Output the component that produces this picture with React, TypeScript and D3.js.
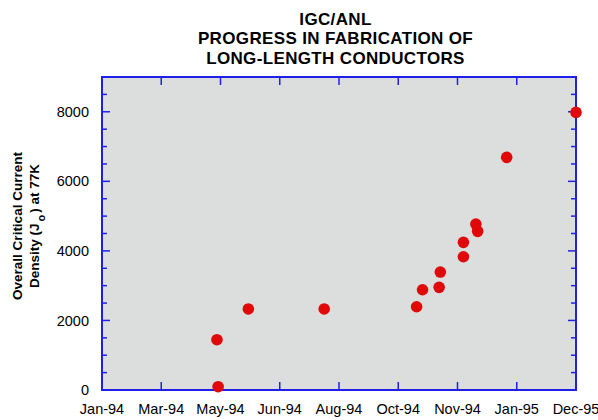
import React from "react";
import * as d3 from "d3";

const titleLines = ["IGC/ANL", "PROGRESS IN FABRICATION OF", "LONG-LENGTH CONDUCTORS"];
const xTickLabels = ["Jan-94", "Mar-94", "May-94", "Jun-94", "Aug-94", "Oct-94", "Nov-94", "Jan-95", "Dec-95"];
// x position in tick-interval units (0 = Jan-94 ... 8 = Dec-95)
const xValues = [1.94, 1.96, 2.47, 3.75, 5.31, 5.41, 5.69, 5.71, 6.1, 6.1, 6.34, 6.31, 6.83, 8.0];
const jValues = [1446, 95, 2330, 2330, 2394, 2883, 2952, 3392, 3832, 4246, 4562, 4772, 6689, 7982];
const yMajorTicks = [0, 2000, 4000, 6000, 8000];
const yMinorTicks = [500, 1000, 1500, 2500, 3000, 3500, 4500, 5000, 5500, 6500, 7000, 7500, 8500];

export default function App() {
  const W = 598, H = 420;
  const left = 102, right = 576, top = 77, bottom = 390;
  const x = d3.scaleLinear().domain([0, 8]).range([left, right]);
  const y = d3.scaleLinear().domain([0, 9000]).range([bottom, top]);
  const axisColor = "#2020e8";
  const font = "'Liberation Sans', Arial, sans-serif";
  return (
    <svg width={W} height={H} style={{ position: "absolute", left: 0, top: 0 }} fontFamily={font}>
      <rect width={W} height={H} fill="#fff" />
      <rect x={left} y={top} width={right - left} height={bottom - top} fill="#dcdddd" />
      {titleLines.map((t, i) => (
        <text key={i} x={335.5} y={24.5 + i * 19.6} textAnchor="middle" fontSize={17} letterSpacing={0.35} fontWeight="bold" fill="#000">
          {t}
        </text>
      ))}
      {/* x ticks */}
      {xTickLabels.map((lab, i) => (
        <g key={lab}>
          <line x1={x(i)} x2={x(i)} y1={bottom} y2={bottom - 8} stroke={axisColor} strokeWidth={1.5} />
          <line x1={x(i)} x2={x(i)} y1={top} y2={top + 8} stroke={axisColor} strokeWidth={1.5} />
          <text x={x(i)} y={414} textAnchor="middle" fontSize={14.5} fill="#000">{lab}</text>
        </g>
      ))}
      {/* y ticks */}
      {yMajorTicks.map((v) => (
        <g key={v}>
          <line x1={left} x2={left + 8} y1={y(v)} y2={y(v)} stroke={axisColor} strokeWidth={1.5} />
          <line x1={right} x2={right - 8} y1={y(v)} y2={y(v)} stroke={axisColor} strokeWidth={1.5} />
          <text x={89} y={y(v)} dy="0.35em" textAnchor="end" fontSize={14.5} fill="#000">{v}</text>
        </g>
      ))}
      {yMinorTicks.map((v) => (
        <g key={v}>
          <line x1={left} x2={left + 5} y1={y(v)} y2={y(v)} stroke={axisColor} strokeWidth={1.5} />
          <line x1={right} x2={right - 5} y1={y(v)} y2={y(v)} stroke={axisColor} strokeWidth={1.5} />
        </g>
      ))}
      <rect x={left} y={top} width={right - left} height={bottom - top} fill="none" stroke={axisColor} strokeWidth={2} />
      {/* y title */}
      <g transform="translate(21.5,226) rotate(-90)">
        <text x={0} y={0} textAnchor="middle" fontSize={13.5} fontWeight="bold" fill="#000">Overall Critical Current</text>
      </g>
      <g transform="translate(38.5,226) rotate(-90)">
        <text x={0} y={0} textAnchor="middle" fontSize={13.5} fontWeight="bold" fill="#000">
          Density (J<tspan dx={2} dy={6} fontSize={11}>o</tspan><tspan dx={2} dy={-6}>) at 77K</tspan>
        </text>
      </g>
      {xValues.map((xv, i) => (
        <circle key={i} cx={x(xv)} cy={y(jValues[i])} r={5.8} fill="#e00808" />
      ))}
    </svg>
  );
}
